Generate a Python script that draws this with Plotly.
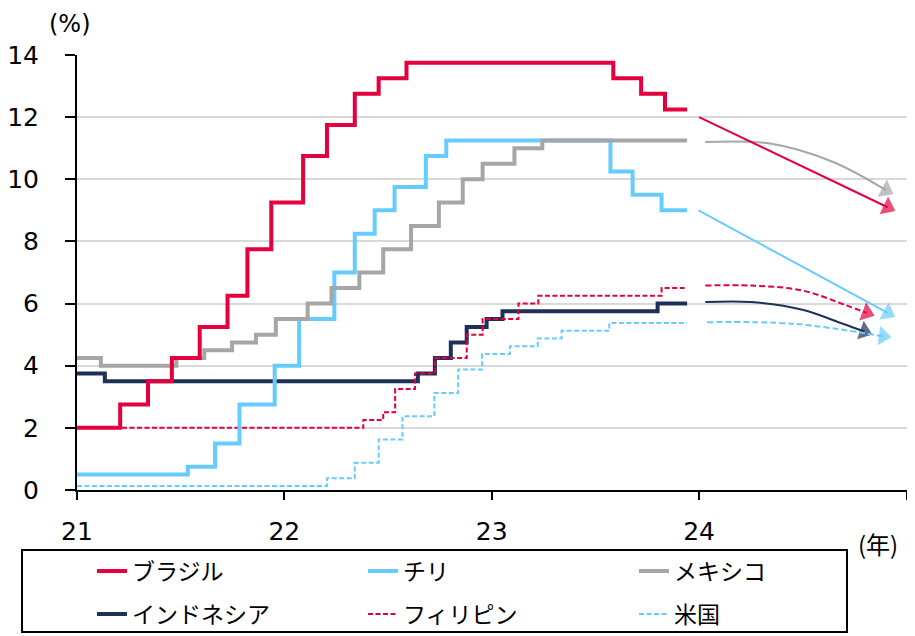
import plotly.graph_objects as go

# ---------------- data ----------------
names = ["ブラジル", "チリ", "メキシコ", "インドネシア", "フィリピン", "米国"]

brazil_x = ["2021-01-01", "2021-03-18", "2021-05-06", "2021-06-17", "2021-08-05", "2021-09-23",
            "2021-10-28", "2021-12-09", "2022-02-03", "2022-03-17", "2022-05-05", "2022-06-16",
            "2022-08-04", "2023-08-03", "2023-09-21", "2023-11-02", "2023-12-11"]
brazil_y = [2.0, 2.75, 3.5, 4.25, 5.25, 6.25, 7.75, 9.25, 10.75, 11.75, 12.75, 13.25,
            13.75, 13.25, 12.75, 12.25, 12.25]

chile_x = ["2021-01-01", "2021-07-15", "2021-09-01", "2021-10-14", "2021-12-15", "2022-01-27",
           "2022-03-30", "2022-05-05", "2022-06-09", "2022-07-14", "2022-09-07", "2022-10-13",
           "2023-07-29", "2023-09-06", "2023-10-27", "2023-12-11"]
chile_y = [0.5, 0.75, 1.5, 2.75, 4.0, 5.5, 7.0, 8.25, 9.0, 9.75, 10.75, 11.25,
           10.25, 9.5, 9.0, 9.0]

mexico_x = ["2021-01-01", "2021-02-12", "2021-06-25", "2021-08-13", "2021-10-01", "2021-11-12",
            "2021-12-17", "2022-02-11", "2022-03-25", "2022-05-13", "2022-06-24", "2022-08-12",
            "2022-09-30", "2022-11-11", "2022-12-16", "2023-02-10", "2023-03-31", "2023-12-11"]
mexico_y = [4.25, 4.0, 4.25, 4.5, 4.75, 5.0, 5.5, 6.0, 6.5, 7.0, 7.75, 8.5,
            9.25, 10.0, 10.5, 11.0, 11.25, 11.25]

indonesia_x = ["2021-01-01", "2021-02-19", "2022-08-24", "2022-09-23", "2022-10-21", "2022-11-18",
               "2022-12-23", "2023-01-20", "2023-10-20", "2023-12-11"]
indonesia_y = [3.75, 3.5, 3.75, 4.25, 4.75, 5.25, 5.5, 5.75, 6.0, 6.0]

philippines_x = ["2021-01-01", "2022-05-20", "2022-06-24", "2022-07-15", "2022-08-19", "2022-09-23",
                 "2022-11-18", "2022-12-16", "2023-02-17", "2023-03-24", "2023-10-27", "2023-12-11"]
philippines_y = [2.0, 2.25, 2.5, 3.25, 3.75, 4.25, 5.0, 5.5, 6.0, 6.25, 6.5, 6.5]

us_x = ["2021-01-01", "2022-03-17", "2022-05-05", "2022-06-16", "2022-07-28", "2022-09-22",
        "2022-11-03", "2022-12-15", "2023-02-02", "2023-03-23", "2023-05-04", "2023-07-27",
        "2023-12-11"]
us_y = [0.125, 0.375, 0.875, 1.625, 2.375, 3.125, 3.875, 4.375, 4.625, 4.875, 5.125, 5.375, 5.375]

# forecast paths (2024) read from the arrows
brazil_fx = ["2024-01-01", "2024-11-28"]
brazil_fy = [12.0, 9.1]
chile_fx = ["2023-12-31", "2024-11-28"]
chile_fy = [9.0, 5.7]
mexico_fx = ["2024-01-12", "2024-05-05", "2024-08-25", "2024-11-25"]
mexico_fy = [11.2, 11.15, 10.55, 9.65]
indonesia_fx = ["2024-01-12", "2024-04-01", "2024-07-01", "2024-09-10", "2024-10-18"]
indonesia_fy = [6.05, 6.05, 5.8, 5.35, 5.1]
philippines_fx = ["2024-01-12", "2024-04-01", "2024-07-01", "2024-09-15", "2024-10-22"]
philippines_fy = [6.58, 6.58, 6.42, 5.95, 5.7]
us_fx = ["2024-01-15", "2024-06-15", "2024-11-20"]
us_fy = [5.4, 5.35, 4.95]

x_tickvals = ["2021-01-01", "2022-01-01", "2023-01-01", "2024-01-01", "2025-01-01"]
x_ticktext = ["21", "22", "23", "24", ""]
y_tickvals = [0, 2, 4, 6, 8, 10, 12, 14]

# ---------------- styles ----------------
RED = "#E4003D"
LBLUE = "#66CCFF"
GRAY = "#A6A6A6"
NAVY = "#1E3059"

series = [
    # name, x, y, color, dash, width, fx, fy, rank, legend
    (names[3], indonesia_x, indonesia_y, NAVY, "solid", 4, indonesia_fx, indonesia_fy, 4, "legend2"),
    (names[4], philippines_x, philippines_y, RED, "5px,2.5px", 2, philippines_fx, philippines_fy, 5, "legend2"),
    (names[5], us_x, us_y, LBLUE, "5px,2.5px", 2, us_fx, us_fy, 6, "legend2"),
    (names[1], chile_x, chile_y, LBLUE, "solid", 4, chile_fx, chile_fy, 2, "legend"),
    (names[2], mexico_x, mexico_y, GRAY, "solid", 4, mexico_fx, mexico_fy, 3, "legend"),
    (names[0], brazil_x, brazil_y, RED, "solid", 4, brazil_fx, brazil_fy, 1, "legend"),
]

fig = go.Figure()

# forecast arrows
for name, x, y, col, dash, w, fx, fy, rank, lg in series:
    fdash = "6px,3px" if dash != "solid" else "solid"
    shape = "spline" if len(fx) > 2 else "linear"
    fig.add_trace(go.Scatter(
        x=fx, y=fy, mode="lines+markers", showlegend=False, hoverinfo="skip",
        line=dict(color=col, width=2, dash=fdash, shape=shape, smoothing=1.0),
        marker=dict(symbol="triangle-up", size=[0] * (len(fx) - 1) + [17],
                    color=col, angleref="previous", line=dict(width=0)),
    ))

# step lines
for name, x, y, col, dash, w, fx, fy, rank, lg in series:
    fig.add_trace(go.Scatter(
        x=x, y=y, name=name, mode="lines", legendrank=rank, legend=lg,
        line=dict(color=col, width=w, dash=dash, shape="hv"),
    ))

# The page body has an 8px margin, so the figure is sized/placed to compensate.
OFF = 8
W, H = 915 - OFF, 636 - OFF
# plot area in screenshot pixels
PL, PR, PT, PB = 77, 907, 55, 490
L, T = PL - OFF, PT - OFF
R, B = W - (PR - OFF), H - (PB - OFF)
pw, ph = PR - PL, PB - PT


def px(xs):
    return (xs - PL) / pw


def py(ys):
    return (PB - ys) / ph


def cx(xs):
    return (xs - OFF) / W


def cy(ys):
    return 1 - (ys - OFF) / H


leg_font = dict(family="Noto Sans CJK JP, sans-serif", size=23, color="#000000")
leg_common = dict(
    orientation="h", xref="container", yref="container", xanchor="left", yanchor="middle",
    entrywidth=226, entrywidthmode="pixels", font=leg_font,
    bgcolor="rgba(0,0,0,0)", borderwidth=0, traceorder="normal",
)

fig.update_layout(
    width=W, height=H,
    margin=dict(l=L, r=R, t=T, b=B, pad=0, autoexpand=False),
    plot_bgcolor="white", paper_bgcolor="white",
    font=dict(family="DejaVu Sans, Noto Sans CJK JP, sans-serif", size=25, color="#000000"),
    xaxis=dict(
        type="date", range=["2021-01-01", "2025-01-01"],
        tickmode="array", tickvals=x_tickvals, ticktext=x_ticktext,
        ticks="outside", ticklen=8, tickwidth=2, tickcolor="#000000",
        showline=True, linecolor="#000000", linewidth=2,
        showgrid=False, zeroline=False, ticklabelstandoff=10,
        tickfont=dict(size=25), automargin=False,
    ),
    yaxis=dict(
        range=[0, 14], tickmode="array", tickvals=y_tickvals,
        ticks="outside", ticklen=10, tickwidth=2, tickcolor="#000000",
        showline=True, linecolor="#000000", linewidth=2,
        showgrid=True, gridcolor="#D9D9D9", gridwidth=2,
        zeroline=False, ticklabelstandoff=21,
        tickfont=dict(size=25), automargin=False,
    ),
    legend=dict(x=cx(92), y=cy(571), **leg_common),
    legend2=dict(x=cx(92), y=cy(614), **leg_common),
    shapes=[dict(
        type="rect", xref="paper", yref="paper",
        x0=px(22), x1=px(847), y0=py(632), y1=py(550),
        line=dict(color="#000000", width=2), fillcolor="rgba(0,0,0,0)",
    )],
    annotations=[
        dict(text="(%)", xref="paper", yref="paper", x=px(70), y=py(24),
             xanchor="center", yanchor="middle", showarrow=False, font=dict(size=24)),
        dict(text="(年)", xref="paper", yref="paper", x=px(878), y=py(543),
             xanchor="center", yanchor="middle", showarrow=False,
             font=dict(family="Noto Sans CJK JP, sans-serif", size=24)),
    ],
)

fig.write_html("out.html")
